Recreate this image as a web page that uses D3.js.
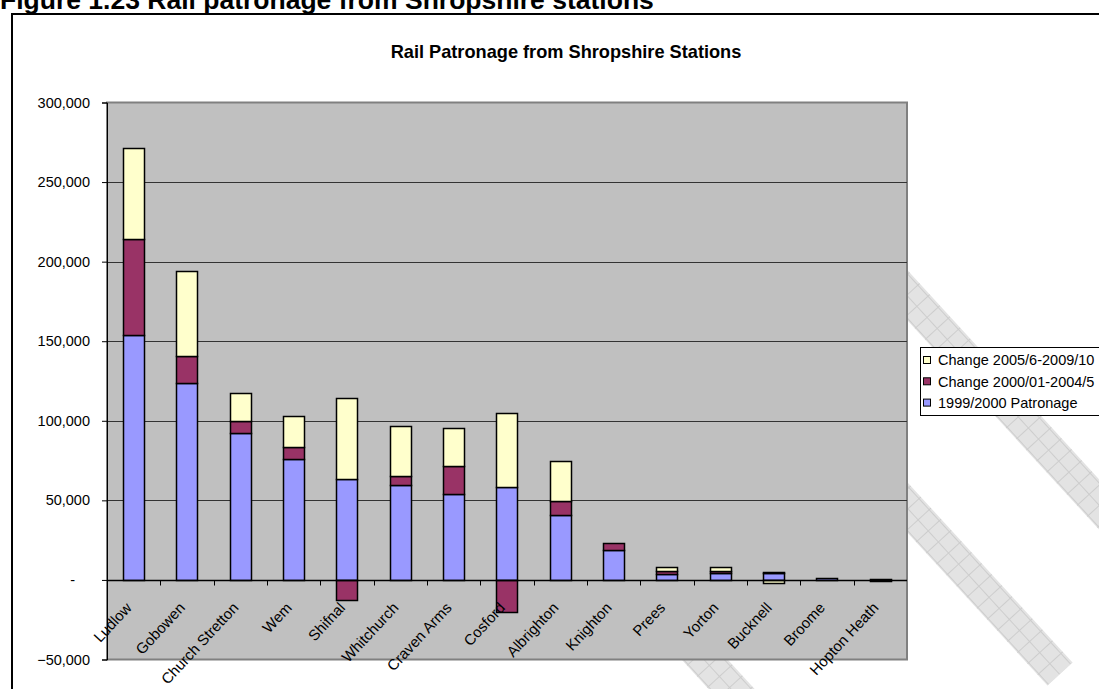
<!DOCTYPE html>
<html>
<head>
<meta charset="utf-8">
<script src="https://cdn.jsdelivr.net/npm/d3@7"></script>
<style>
body { margin: 0; background: #fff; }
svg { font-family: Arial, "Liberation Sans", sans-serif; }
</style>
</head>
<body>
<svg width="1099" height="689"></svg>
<script>

var stations = ["Ludlow", "Gobowen", "Church Stretton", "Wem", "Shifnal", "Whitchurch", "Craven Arms",
    "Cosford", "Albrighton", "Knighton", "Prees", "Yorton", "Bucknell", "Broome", "Hopton Heath"];
var patronage9900 = [153600, 124000, 92500, 76000, 63700, 59800, 53700, 58500, 41100, 18500, 4000, 4200, 4500, 1000, 400];
var change0005 = [60400, 17000, 7100, 7800, -12300, 5500, 18000, -19900, 8400, 4600, 1700, 1500, 400, 300, 200];
var change0510 = [57200, 53000, 17800, 19200, 50900, 31300, 23900, 46300, 25500, 0, 2700, 2700, -1800, 0, -400];
var yTicks = [-50000, 0, 50000, 100000, 150000, 200000, 250000, 300000];
var seriesKeys = ["p", "c1", "c2"];
var seriesNames = ["1999/2000 Patronage", "Change 2000/01-2004/5", "Change 2005/6-2009/10"];
var seriesColors = ["#9999FF", "#993366", "#FFFFCC"];

function create_patronage_chart(){

    var svg = d3.select("svg"),
    plot = {left: 107, right: 907, top: 102.5, bottom: 659.5};

    var data = stations.map(function(s, i) {
        return {station: s, p: patronage9900[i], c1: change0005[i], c2: change0510[i]};
    });

    var x = d3.scaleBand()
    .domain(stations)
    .range([plot.left, plot.right])
    .paddingInner(0.6)
    .paddingOuter(0.3);

    var y = d3.scaleLinear()
    .domain([yTicks[0], yTicks[yTicks.length - 1]])
    .range([plot.bottom, plot.top]);

    var color = d3.scaleOrdinal().domain(seriesKeys).range(seriesColors);

    var stack = d3.stack()
    .keys(seriesKeys)
    .offset(d3.stackOffsetDiverging);

    // hatch pattern for the watermark strips
    var pat = svg.append("defs").append("pattern")
    .attr("id", "hatch")
    .attr("patternUnits", "userSpaceOnUse")
    .attr("width", 15)
    .attr("height", 15);
    pat.append("rect").attr("width", 15).attr("height", 15).attr("fill", "#e3e3e3");
    pat.append("path").attr("d", "M0,0.5H15M0.5,0V15").attr("stroke", "#cdcdcd").attr("fill", "none");

    // watermark strips (page background, partly hidden by the chart)
    var strips = [
        {cx: 1060, cy: 674, len: 420},
        {cx: 1150, cy: 560, len: 520},
        {cx: 760, cy: 720, len: 300}
    ];
    svg.selectAll(".strip")
    .data(strips)
    .enter()
    .append("rect")
    .attr("class", "strip")
    .attr("x", function(d) { return -d.len; })
    .attr("y", -17)
    .attr("width", function(d) { return d.len; })
    .attr("height", 34)
    .attr("transform", function(d) { return "translate(" + d.cx + "," + d.cy + ")rotate(47.5)"; })
    .attr("fill", "url(#hatch)");

    // figure caption above the chart box
    svg.append("text")
    .attr("x", 0)
    .attr("y", 9)
    .style("font-size", "26.5px")
    .style("font-weight", "bold")
    .text("Figure 1.23 Rail patronage from Shropshire stations");

    // outer chart box
    svg.append("rect")
    .attr("x", 12)
    .attr("y", 14)
    .attr("width", 1200)
    .attr("height", 800)
    .attr("fill", "none")
    .attr("stroke", "#000")
    .attr("stroke-width", 2);

    // plot area
    svg.append("rect")
    .attr("x", plot.left)
    .attr("y", plot.top)
    .attr("width", plot.right - plot.left)
    .attr("height", plot.bottom - plot.top)
    .attr("fill", "#C0C0C0")
    .attr("stroke", "#808080")
    .attr("stroke-width", 2);

    // gridlines
    svg.append("g")
    .selectAll("line")
    .data(yTicks.filter(function(t) { return t !== 0 && t !== yTicks[0] && t !== yTicks[yTicks.length - 1]; }))
    .enter()
    .append("line")
    .attr("x1", plot.left)
    .attr("x2", plot.right)
    .attr("y1", function(d) { return Math.round(y(d)) + 0.5; })
    .attr("y2", function(d) { return Math.round(y(d)) + 0.5; })
    .attr("stroke", "#333");

    // create stacked bars
    var layers = svg.append("g")
    .selectAll("g")
    .data(stack(data))
    .enter()
    .append("g")
    .attr("fill", function(d) { return color(d.key); });

    layers.selectAll("rect")
    .data(function(d) { return d; })
    .enter()
    .append("rect")
    .attr("x", function(d) { return Math.round(x(d.data.station)) + 0.5; })
    .attr("y", function(d) { return Math.round(y(d[1])) + 0.5; })
    .attr("width", Math.round(x.bandwidth()))
    .attr("height", function(d) { return Math.max(0, Math.round(y(d[0])) - Math.round(y(d[1]))); })
    .attr("stroke", "#000")
    .attr("stroke-width", 1.5);

    // y axis
    var yAxis = svg.append("g")
    .attr("transform", "translate(" + plot.left + ",0)")
    .call(d3.axisLeft(y)
        .tickValues(yTicks)
        .tickSize(5)
        .tickPadding(12)
        .tickFormat(function(d) { return d === 0 ? "-" : d3.format(",")(d); }));
    yAxis.select(".domain").attr("stroke", "#000");
    yAxis.selectAll("text")
    .style("font-size", "14.5px")
    .attr("fill", "#000")
    .attr("font-family", null);
    yAxis.selectAll(".tick")
    .filter(function(d) { return d === 0; })
    .select("text")
    .attr("x", -32);

    // x axis along zero
    var zero = Math.round(y(0)) + 0.5;
    svg.append("line")
    .attr("x1", plot.left)
    .attr("x2", plot.right)
    .attr("y1", zero)
    .attr("y2", zero)
    .attr("stroke", "#000")
    .attr("stroke-width", 1.3);

    var step = x.step();
    svg.append("g")
    .selectAll("line")
    .data(stations.slice(1))
    .enter()
    .append("line")
    .attr("x1", function(d) { return Math.round(x(d) - (step - x.bandwidth()) / 2) + 0.5; })
    .attr("x2", function(d) { return Math.round(x(d) - (step - x.bandwidth()) / 2) + 0.5; })
    .attr("y1", zero)
    .attr("y2", zero + 5)
    .attr("stroke", "#000");

    // rotated station labels
    svg.append("g")
    .selectAll("text")
    .data(stations)
    .enter()
    .append("text")
    .attr("text-anchor", "end")
    .style("font-size", "15px")
    .attr("transform", function(d) {
        return "translate(" + (x(d) + x.bandwidth() / 2 - 1) + "," + (zero + 28) + ")rotate(-47)";
    })
    .text(function(d) { return d; });

    // chart title
    svg.append("text")
    .attr("x", 566)
    .attr("y", 58)
    .attr("text-anchor", "middle")
    .style("font-size", "18.2px")
    .style("font-weight", "bold")
    .text("Rail Patronage from Shropshire Stations");

    // legend, top entry is the last series
    var legendBox = svg.append("g")
    .attr("transform", "translate(920,347)");

    legendBox.append("rect")
    .attr("x", 0.5)
    .attr("y", 0.5)
    .attr("width", 200)
    .attr("height", 68)
    .attr("fill", "#fff")
    .attr("stroke", "#000");

    var legend = legendBox.selectAll(".legend")
    .data(seriesKeys.slice().reverse())
    .enter()
    .append("g")
    .attr("class", "legend")
    .attr("transform", function(d, i) { return "translate(0," + (13 + i * 21.3) + ")"; });

    legend.append("rect")
    .attr("x", 3.5)
    .attr("y", -3.5)
    .attr("width", 7)
    .attr("height", 7)
    .attr("fill", function(d) { return color(d); })
    .attr("stroke", "#000");

    legend.append("text")
    .attr("x", 18)
    .attr("y", 0)
    .attr("dy", "0.36em")
    .style("font-size", "14.5px")
    .text(function(d) { return seriesNames[seriesKeys.indexOf(d)]; });
}

create_patronage_chart();
</script>
</body>
</html>
